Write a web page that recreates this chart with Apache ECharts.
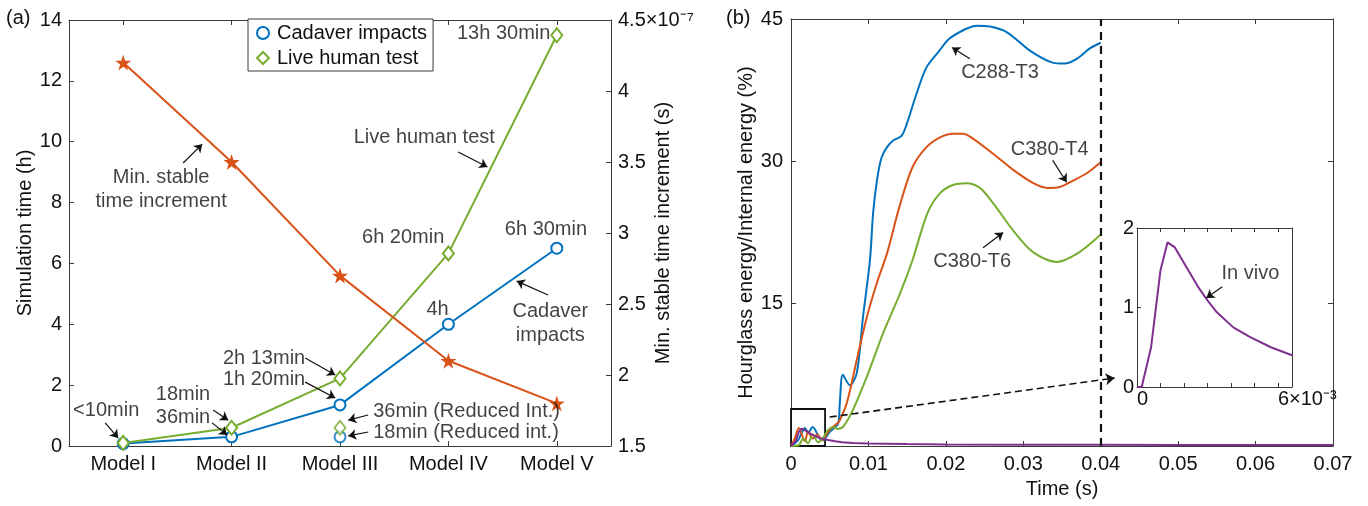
<!DOCTYPE html>
<html>
<head>
<meta charset="utf-8">
<script src="https://cdn.jsdelivr.net/npm/echarts@6/dist/echarts.min.js"></script>
<style>
html,body{margin:0;padding:0;background:#fff;}
#chart{width:1368px;height:506px;}
</style>
</head>
<body>
<div id="chart"></div>
<script>
// ---------- Panel (a) data ----------
const categories = ['Model I', 'Model II', 'Model III', 'Model IV', 'Model V'];
const cadaverHours = [0.08, 0.3, 1.35, 4.0, 6.5];
const liveHumanHours = [0.1, 0.6, 2.22, 6.33, 13.5];
const reducedCadaver = [['Model III', 0.3]];
const reducedLiveHuman = [['Model III', 0.6]];
const minIncrementE7 = [4.2, 3.5, 2.7, 2.1, 1.8]; // x 10^-7 s
const leftTicks = [0, 14, 2];
const rightTicks = [1.5, 4.5, 0.5];

// annotations (a): text, x (category index), y (h), align
const annotTextA = [
  ['Min. stable\ntime increment', 0.35, 8.43, 'center'],
  ['Live human test', 2.777, 10.15, 'center'],
  ['13h 30min', 3.51, 13.57, 'center'],
  ['6h 20min', 2.583, 6.84, 'center'],
  ['6h 30min', 3.90, 7.10, 'center'],
  ['4h', 2.90, 4.47, 'center'],
  ['Cadaver\nimpacts', 3.94, 4.04, 'center'],
  ['36min (Reduced Int.)', 2.306, 1.12, 'left'],
  ['18min (Reduced int.)', 2.306, 0.46, 'left'],
  ['2h 13min', 1.679, 2.89, 'right'],
  ['1h 20min', 1.679, 2.17, 'right'],
  ['18min', 0.803, 1.68, 'right'],
  ['36min', 0.803, 0.95, 'right'],
  ['<10min', -0.157, 1.18, 'center']
];
const annotArrowsA = [
  [[0.553, 9.30], [0.729, 9.92]],
  [[3.09, 9.66], [3.36, 9.17]],
  [[3.92, 4.96], [3.63, 5.42]],
  [[2.26, 1.02], [2.076, 0.85]],
  [[2.26, 0.46], [2.076, 0.33]],
  [[1.679, 2.89], [1.956, 2.33]],
  [[1.679, 2.10], [1.956, 1.58]],
  [[0.83, 1.18], [0.969, 0.85]],
  [[0.82, 0.76], [0.96, 0.36]],
  [[-0.166, 0.76], [-0.046, 0.26]]
];

// ---------- Panel (b) data ----------
const c288T3 = [[0,0],[0.0009,0.6],[0.0018,1.9],[0.0022,1.4],[0.0028,2.0],[0.0037,0.8],[0.0041,0.6],[0.005,1.5],[0.0061,2.4],[0.0063,4.5],[0.0067,7.5],[0.0076,6.4],[0.0085,7.7],[0.0093,13.6],[0.0102,19.6],[0.0106,24.5],[0.0111,28.0],[0.0117,30.4],[0.0124,31.5],[0.0132,32.2],[0.0143,32.7],[0.0151,34.3],[0.0162,37.1],[0.0175,39.9],[0.0192,41.7],[0.0204,42.9],[0.0227,44.0],[0.024,44.3],[0.0257,44.2],[0.0279,43.6],[0.0308,41.7],[0.0338,40.4],[0.0353,40.3],[0.0369,40.8],[0.0386,41.9],[0.04,42.5]];
const c380T4 = [[0,0],[0.0005,0.8],[0.001,1.9],[0.0018,0.5],[0.0022,1.5],[0.0028,0.8],[0.0034,1.2],[0.004,0.6],[0.0048,1.5],[0.0054,2.0],[0.006,2.4],[0.0063,2.7],[0.0072,4.5],[0.0085,9.1],[0.0098,13.6],[0.0111,17.2],[0.0124,20.3],[0.014,25.2],[0.0157,29.4],[0.0175,31.5],[0.0192,32.5],[0.0209,32.9],[0.0222,32.9],[0.0235,32.4],[0.0261,30.8],[0.0287,29.1],[0.0313,27.7],[0.0331,27.2],[0.0347,27.3],[0.0365,28.0],[0.0383,28.8],[0.04,29.9]];
const c380T6 = [[0,0],[0.001,0.1],[0.0016,0.8],[0.0022,0.3],[0.0028,1.2],[0.0035,0.4],[0.0041,0.8],[0.0048,1.7],[0.0056,2.0],[0.006,1.8],[0.0068,2.1],[0.008,3.8],[0.0098,7.3],[0.0119,11.9],[0.0141,16.1],[0.0157,19.6],[0.0176,24.5],[0.0192,26.6],[0.0209,27.5],[0.0227,27.7],[0.0244,27.2],[0.0261,25.6],[0.0287,22.7],[0.0313,20.4],[0.0343,19.4],[0.037,20.3],[0.04,22.3]];
const inVivo = [[0,0],[0.0002,0],[0.0006,0.5],[0.001,1.47],[0.0013,1.82],[0.0016,1.76],[0.002,1.56],[0.0026,1.26],[0.003,1.09],[0.0034,0.94],[0.0041,0.75],[0.0048,0.63],[0.0057,0.5],[0.0066,0.4],[0.008,0.32],[0.01,0.26],[0.015,0.2],[0.02,0.16],[0.03,0.13],[0.04,0.12],[0.05,0.11],[0.07,0.1]];
const timeTicks = [0, 0.07, 0.01];
const energyTicks = [0, 45, 15];
const insetX = [0, 0.0066, 0.001];
const insetY = [0, 2, 1];
const cutoffTime = 0.04;
const zoomBox = [[0, 0], [0.0044, 3.9]];
const zoomArrow = [[0.005, 3.05], [0.0418, 7.16]];

const annotTextB = [
  ['C288-T3', 0.027, 39.4, 'center'],
  ['C380-T4', 0.0334, 31.2, 'center'],
  ['C380-T6', 0.0234, 19.4, 'center']
];
const annotArrowsB = [
  [[0.0231, 40.8], [0.0208, 42.0]],
  [[0.0338, 30.1], [0.0356, 27.8]],
  [[0.0248, 20.9], [0.0274, 22.5]]
];
const annotTextC = [['In vivo', 0.00483, 1.43, 'center']];
const annotArrowsC = [[[0.00363, 1.26], [0.00295, 1.12]]];

// ---------- styles ----------
const FONT = '"Liberation Sans", Arial, Helvetica, sans-serif';
const TXT = '#111';
const AX = '#3a3a3a';
const BLUE = '#0072BD', ORANGE = '#D95319', GREEN = '#77AC30', PURPLE = '#7E2F8E';
const STAR = 'path://M50,0 L61.2,34.5 L97.6,34.5 L68.2,55.9 L79.4,90.5 L50,69.1 L20.6,90.5 L31.8,55.9 L2.4,34.5 L38.8,34.5 Z';

function axisBase(extra) {
  return Object.assign({
    axisLine: { show: true, onZero: false, lineStyle: { color: AX, width: 1 } },
    axisTick: { show: true, inside: true, length: 5, lineStyle: { color: AX } },
    axisLabel: { fontSize: 20, color: TXT, fontFamily: FONT },
    splitLine: { show: false },
    nameMoveOverlap: false,
    nameTextStyle: { fontSize: 20, color: TXT, fontFamily: FONT }
  }, extra);
}
function textSeries(list, xi, yi, arrows, z) {
  z = z || 5;
  return {
    type: 'scatter', xAxisIndex: xi, yAxisIndex: yi, silent: true,
    symbolSize: 1, itemStyle: { color: 'rgba(0,0,0,0)' }, clip: false, z: z,
    data: list.map(a => ({ name: a[0], value: [a[1], a[2]], label: { align: a[3] } })),
    label: { show: true, position: 'inside', formatter: '{b}', color: TXT, fontSize: 20,
             fontFamily: FONT, lineHeight: 24, verticalAlign: 'middle' },
    markLine: {
      silent: true, symbol: ['none', 'arrow'], symbolSize: 8, animation: false, z: z + 1,
      label: { show: false },
      lineStyle: { type: 'solid', color: '#111', width: 1.2 },
      data: arrows.map(p => [{ coord: p[0] }, { coord: p[1] }])
    }
  };
}

const chart = echarts.init(document.getElementById('chart'));
const option = {
  animation: false,
  backgroundColor: '#fff',
  textStyle: { fontFamily: FONT },
  title: [
    { text: '(a)', left: 6, top: 8, padding: 0, textStyle: { fontSize: 20, fontWeight: 'normal', color: TXT, fontFamily: FONT } },
    { text: '(b)', left: 726, top: 8, padding: 0, textStyle: { fontSize: 20, fontWeight: 'normal', color: TXT, fontFamily: FONT } }
  ],
  legend: {
    orient: 'vertical', left: 248, top: 19, padding: [4, 6, 3, 8], itemGap: 5,
    itemWidth: 12, itemHeight: 12, backgroundColor: '#fff', borderColor: AX, borderWidth: 1,
    textStyle: { fontSize: 20, color: TXT, fontFamily: FONT, padding: [0, 0, 0, 3] },
    data: [
      { name: 'Cadaver impacts', icon: 'circle', itemStyle: { color: '#fff', borderColor: BLUE, borderWidth: 2 } },
      { name: 'Live human test', icon: 'diamond', itemStyle: { color: '#fff', borderColor: GREEN, borderWidth: 2 } }
    ]
  },
  grid: [
    { left: 69, top: 20, width: 542, height: 426 },
    { left: 791, top: 19, width: 542, height: 427 },
    { left: 1137, top: 228, width: 155, height: 159, show: true, backgroundColor: '#fff', borderWidth: 0, z: 10 }
  ],
  xAxis: [
    axisBase({ gridIndex: 0, type: 'category', data: categories, boundaryGap: true, position: 'bottom',
      axisTick: { show: true, inside: true, length: 5, alignWithLabel: true, lineStyle: { color: AX } },
      axisLabel: { fontSize: 20, color: TXT, fontFamily: FONT, margin: 8 } }),
    axisBase({ gridIndex: 0, type: 'category', data: categories, boundaryGap: true, position: 'top',
      axisTick: { show: true, inside: true, length: 5, alignWithLabel: true, lineStyle: { color: AX } },
      axisLabel: { show: false } }),
    { gridIndex: 0, type: 'value', min: -0.5, max: 4.5, show: false },
    axisBase({ gridIndex: 1, type: 'value', min: timeTicks[0], max: timeTicks[1], interval: timeTicks[2], position: 'bottom',
      name: 'Time (s)', nameLocation: 'middle', nameGap: 33,
      axisLabel: { fontSize: 20, color: TXT, fontFamily: FONT, margin: 8,
        formatter: v => v === 0 ? '0' : String(+v.toFixed(2)) } }),
    axisBase({ gridIndex: 1, type: 'value', min: timeTicks[0], max: timeTicks[1], interval: timeTicks[2], position: 'top',
      axisLabel: { show: false } }),
    axisBase({ gridIndex: 2, type: 'value', min: insetX[0], max: insetX[1], interval: insetX[2], position: 'bottom', z: 11,
      axisTick: { show: true, inside: true, length: 4, lineStyle: { color: AX } },
      axisLabel: { fontSize: 20, color: TXT, fontFamily: FONT, margin: 2, align: 'left', showMaxLabel: false,
        formatter: v => v === 0 ? '0' : (Math.abs(v - 0.006) < 1e-9 ? '6×10⁻³' : '') } }),
    axisBase({ gridIndex: 2, type: 'value', min: insetX[0], max: insetX[1], interval: insetX[2], position: 'top', z: 11,
      axisTick: { show: true, inside: true, length: 4, lineStyle: { color: AX } },
      axisLabel: { show: false } })
  ],
  yAxis: [
    axisBase({ gridIndex: 0, type: 'value', min: leftTicks[0], max: leftTicks[1], interval: leftTicks[2], position: 'left',
      name: 'Simulation time (h)', nameLocation: 'middle', nameGap: 34,
      axisLabel: { fontSize: 20, color: TXT, fontFamily: FONT, margin: 7 } }),
    axisBase({ gridIndex: 0, type: 'value', min: rightTicks[0], max: rightTicks[1], interval: rightTicks[2], position: 'right',
      name: 'Min. stable time increment (s)', nameLocation: 'middle', nameGap: 42,
      axisLabel: { fontSize: 20, color: TXT, fontFamily: FONT, margin: 7,
        formatter: v => v === 4.5 ? '4.5×10⁻⁷' : String(v) } }),
    axisBase({ gridIndex: 1, type: 'value', min: energyTicks[0], max: energyTicks[1], interval: energyTicks[2], position: 'left',
      name: 'Hourglass energy/Internal energy (%)', nameLocation: 'middle', nameGap: 35,
      axisLabel: { fontSize: 20, color: TXT, fontFamily: FONT, margin: 8, showMinLabel: false } }),
    axisBase({ gridIndex: 1, type: 'value', min: energyTicks[0], max: energyTicks[1], interval: energyTicks[2], position: 'right',
      axisLabel: { show: false } }),
    axisBase({ gridIndex: 2, type: 'value', min: insetY[0], max: insetY[1], interval: insetY[2], position: 'left', z: 11,
      axisTick: { show: true, inside: true, length: 4, lineStyle: { color: AX } },
      axisLabel: { fontSize: 20, color: TXT, fontFamily: FONT, margin: 3 } }),
    axisBase({ gridIndex: 2, type: 'value', min: insetY[0], max: insetY[1], interval: insetY[2], position: 'right', z: 11,
      axisTick: { show: false }, axisLabel: { show: false } })
  ],
  series: [
    { name: 'Cadaver impacts', type: 'line', xAxisIndex: 0, yAxisIndex: 0, data: cadaverHours,
      symbol: 'emptyCircle', symbolSize: 11, lineStyle: { color: BLUE, width: 2 },
      itemStyle: { color: BLUE, borderWidth: 2 }, z: 3 },
    { name: 'Live human test', type: 'line', xAxisIndex: 0, yAxisIndex: 0, data: liveHumanHours,
      symbol: 'emptyDiamond', symbolSize: [11, 14], lineStyle: { color: GREEN, width: 2 },
      itemStyle: { color: GREEN, borderWidth: 2 }, z: 3 },
    { name: 'Cadaver reduced', type: 'scatter', xAxisIndex: 0, yAxisIndex: 0, data: reducedCadaver,
      symbol: 'emptyCircle', symbolSize: 11, itemStyle: { color: BLUE, borderWidth: 2 } },
    { name: 'Live reduced', type: 'scatter', xAxisIndex: 0, yAxisIndex: 0, data: reducedLiveHuman,
      symbol: 'emptyDiamond', symbolSize: [11, 14], itemStyle: { color: GREEN, borderWidth: 2 } },
    { name: 'Min. stable time increment', type: 'line', xAxisIndex: 0, yAxisIndex: 1, data: minIncrementE7,
      symbol: STAR, symbolSize: 16, showAllSymbol: true, lineStyle: { color: ORANGE, width: 2 },
      itemStyle: { color: ORANGE }, z: 3 },
    textSeries(annotTextA, 2, 0, annotArrowsA),

    { name: 'C288-T3', type: 'line', xAxisIndex: 3, yAxisIndex: 2, data: c288T3, showSymbol: false, smooth: 0.3,
      lineStyle: { color: BLUE, width: 2 }, itemStyle: { color: BLUE } },
    { name: 'C380-T4', type: 'line', xAxisIndex: 3, yAxisIndex: 2, data: c380T4, showSymbol: false, smooth: 0.3,
      lineStyle: { color: ORANGE, width: 2 }, itemStyle: { color: ORANGE } },
    { name: 'C380-T6', type: 'line', xAxisIndex: 3, yAxisIndex: 2, data: c380T6, showSymbol: false, smooth: 0.3,
      lineStyle: { color: GREEN, width: 2 }, itemStyle: { color: GREEN } },
    { name: 'In vivo', type: 'line', xAxisIndex: 3, yAxisIndex: 2, data: inVivo, showSymbol: false,
      lineStyle: { color: PURPLE, width: 2 }, itemStyle: { color: PURPLE } },
    { name: 'guides', type: 'scatter', xAxisIndex: 3, yAxisIndex: 2, silent: true, symbolSize: 0,
      data: [[cutoffTime, 0]], itemStyle: { color: 'rgba(0,0,0,0)' },
      markLine: { silent: true, symbol: ['none', 'none'], label: { show: false },
        lineStyle: { type: [8, 6], color: '#111', width: 2.2 },
        data: [{ xAxis: cutoffTime }] },
      markArea: { silent: true, label: { show: false },
        itemStyle: { color: 'rgba(0,0,0,0)', borderColor: '#111', borderWidth: 1.8 },
        data: [[{ coord: zoomBox[0] }, { coord: zoomBox[1] }]] } },
    { name: 'zoomArrow', type: 'scatter', xAxisIndex: 3, yAxisIndex: 2, silent: true, symbolSize: 0,
      data: [zoomArrow[0]], itemStyle: { color: 'rgba(0,0,0,0)' },
      markLine: { silent: true, symbol: ['none', 'arrow'], symbolSize: 9, label: { show: false },
        lineStyle: { type: [7, 4], color: '#111', width: 1.6 },
        data: [[{ coord: zoomArrow[0] }, { coord: zoomArrow[1] }]] } },
    textSeries(annotTextB, 3, 2, annotArrowsB),

    { name: 'In vivo inset', type: 'line', xAxisIndex: 5, yAxisIndex: 4, data: inVivo, showSymbol: false, clip: true,
      lineStyle: { color: PURPLE, width: 2 }, itemStyle: { color: PURPLE }, z: 12 },
    textSeries(annotTextC, 5, 4, annotArrowsC, 13)
  ]
};
chart.setOption(option);
</script>
</body>
</html>
